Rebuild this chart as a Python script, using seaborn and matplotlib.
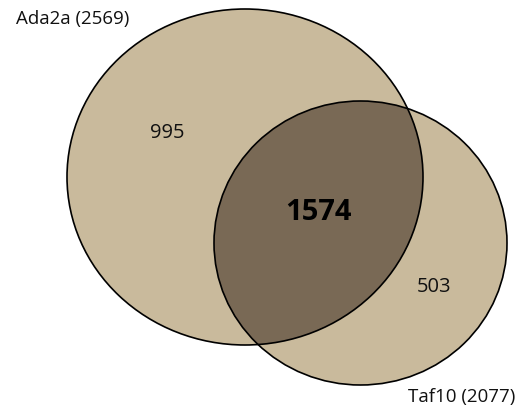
import matplotlib
matplotlib.use("Agg")
import matplotlib.pyplot as plt
from matplotlib.patches import Ellipse
import seaborn as sns

# Venn data
set_names = ["Ada2a", "Taf10"]
set_totals = [2569, 2077]
only_counts = [995, 503]
shared_count = 1574

sns.set_theme(style="white")
plt.rcParams["font.family"] = ["Open Sans", "DejaVu Sans"]

fill_col = "#c9ba9c"
overlap_col = "#796955"

fig = plt.figure(figsize=(5.2, 4.09), dpi=100)
ax = fig.add_axes([0, 0, 1, 1])
ax.set_xlim(0, 520)
ax.set_ylim(409, 0)
ax.set_aspect("auto")
ax.axis("off")

# ellipse layout (pixel space)
e1 = dict(xy=(245, 177), width=356, height=336)
e2 = dict(xy=(360.5, 243), width=293, height=284)

ax.add_patch(Ellipse(**e1, facecolor=fill_col, edgecolor="none", zorder=1))
ax.add_patch(Ellipse(**e2, facecolor=fill_col, edgecolor="none", zorder=1))

# overlap: second ellipse clipped by the first
clip = Ellipse(**e1, facecolor="none", edgecolor="none")
ax.add_patch(clip)
ov = Ellipse(**e2, facecolor=overlap_col, edgecolor="none", zorder=2)
ax.add_patch(ov)
ov.set_clip_path(clip)

ax.add_patch(Ellipse(**e1, facecolor="none", edgecolor="black", lw=1.2, zorder=3))
ax.add_patch(Ellipse(**e2, facecolor="none", edgecolor="black", lw=1.2, zorder=3))

ax.text(16, 19, f"{set_names[0]} ({set_totals[0]})", fontsize=13.5,
        ha="left", va="center", color="#111111")
ax.text(515, 397, f"{set_names[1]} ({set_totals[1]})", fontsize=13.5,
        ha="right", va="center", color="#111111")

ax.text(167, 133, str(only_counts[0]), fontsize=14.5, ha="center", va="center", color="#111111")
ax.text(434, 287, str(only_counts[1]), fontsize=14.5, ha="center", va="center", color="#111111")
ax.text(318, 213, str(shared_count), fontsize=21, fontweight="bold",
        ha="center", va="center", color="black", zorder=4)

fig.savefig("out.png", dpi=100, facecolor="white")
